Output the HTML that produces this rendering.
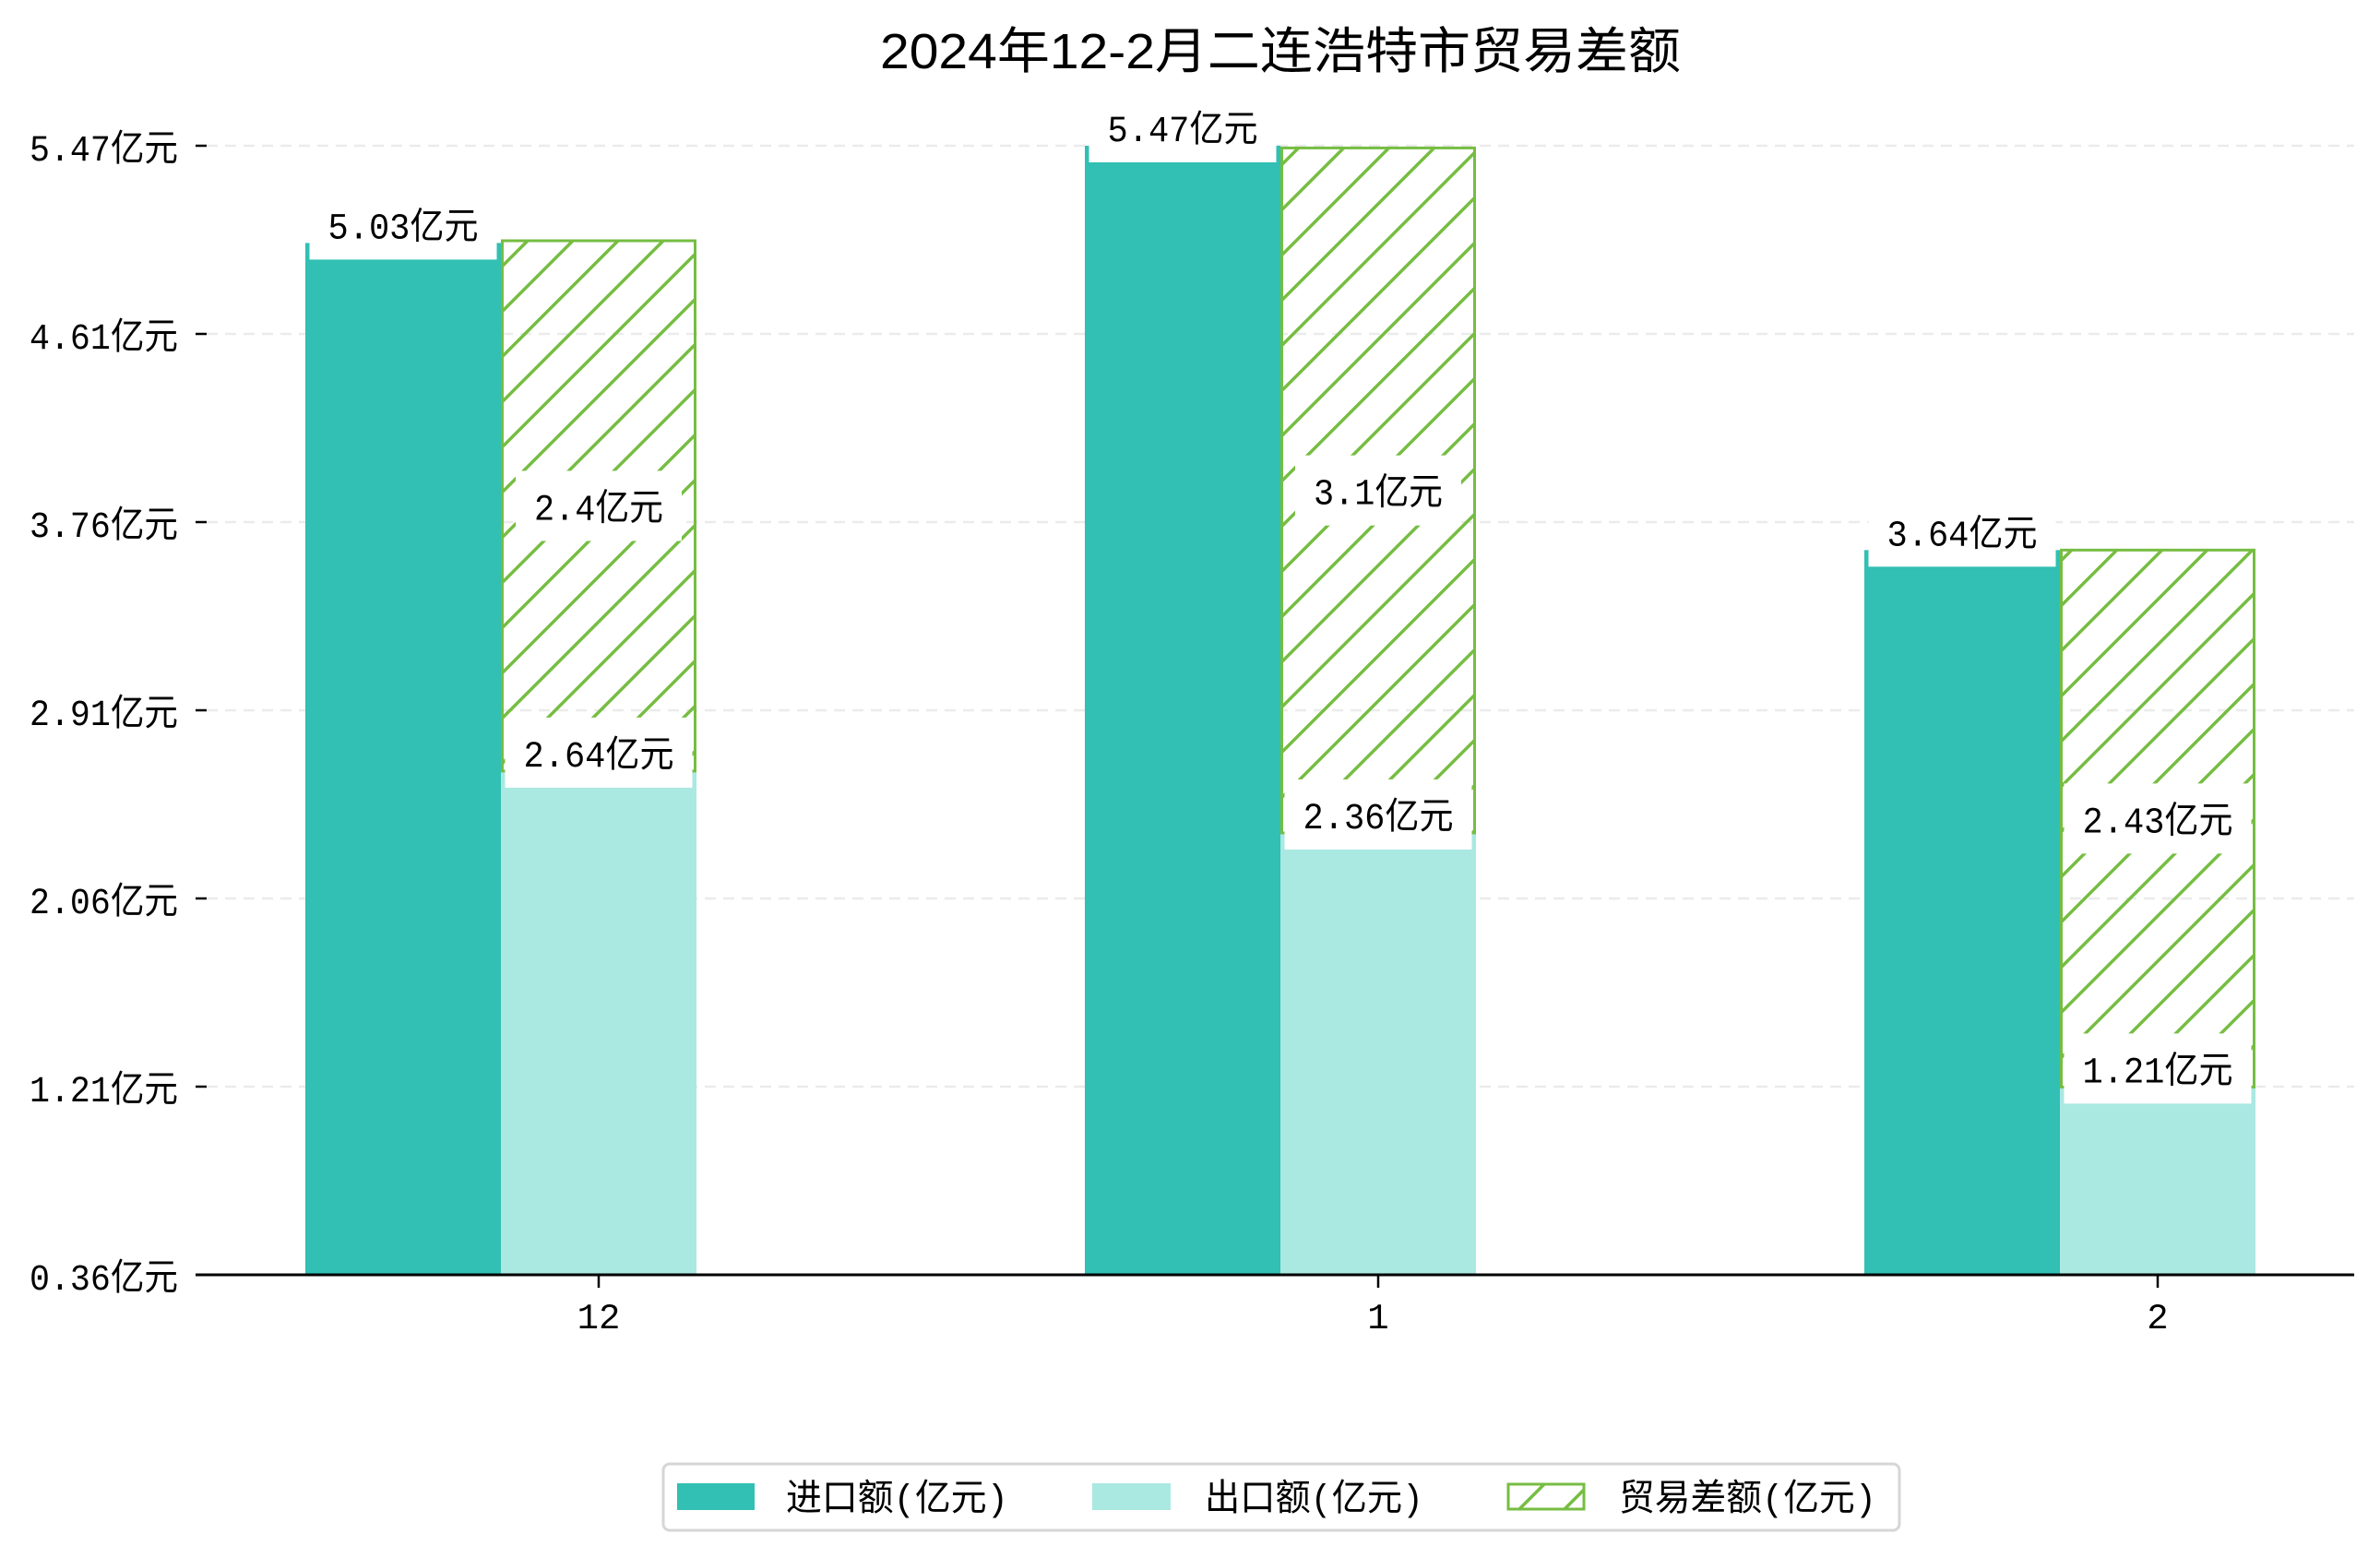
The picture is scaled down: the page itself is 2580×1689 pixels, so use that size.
<!DOCTYPE html>
<html><head><meta charset="utf-8"><style>
html,body{margin:0;padding:0;background:#fff;}
svg{display:block;}
text{font-family:"Liberation Mono","Noto Sans CJK SC",monospace;fill:#000;}
.t{font-family:"Liberation Sans","Noto Sans CJK SC",sans-serif;}
</style></head><body>
<svg id="c" width="2580" height="1689" viewBox="0 0 2580 1689" xmlns="http://www.w3.org/2000/svg">
<defs>
<pattern id="hatch" patternUnits="userSpaceOnUse" width="49" height="49">
<path d="M-5,54 L54,-5 M-5,5 L5,-5 M44,54 L54,44" stroke="#76BD42" stroke-width="3.5"/>
</pattern>
</defs>
<text class="t" x="1388" y="74" font-size="54" text-anchor="middle" textLength="868" lengthAdjust="spacingAndGlyphs">2024年12-2月二连浩特市贸易差额</text>
<g id="grid"></g><g id="bars"></g><g id="labels"></g><g id="axes"></g>
<g>
<rect x="719" y="1587" width="1340" height="72" rx="7" fill="#fff" stroke="#d6d6d6" stroke-width="3"/>
<rect x="734" y="1608" width="84" height="29" fill="#31C0B3"/>
<text x="852" y="1637" font-size="40" textLength="241" lengthAdjust="spacingAndGlyphs">进口额(亿元)</text>
<rect x="1184" y="1608" width="85" height="29" fill="#AAE8E2"/>
<text x="1306" y="1637" font-size="40" textLength="237" lengthAdjust="spacingAndGlyphs">出口额(亿元)</text>
<rect x="1635" y="1609" width="82" height="27" fill="url(#hatch)" stroke="#76BD42" stroke-width="3"/>
<text x="1755" y="1637" font-size="40" textLength="279" lengthAdjust="spacingAndGlyphs">贸易差额(亿元)</text>
</g>
</svg>
<script>
const categories = ["12", "1", "2"];
const importVals = [5.03, 5.47, 3.64];
const exportVals = [2.64, 2.36, 1.21];
const balanceVals = [2.4, 3.1, 2.43];
const yTickLabels = ["0.36亿元","1.21亿元","2.06亿元","2.91亿元","3.76亿元","4.61亿元","5.47亿元"];
const yMin = 0.36, yMax = 5.47;

const NS = "http://www.w3.org/2000/svg";
const axisY = 1382, topY = 158, x0 = 649, step = 845, bw = 212;
function y(v){ return axisY - (v - yMin) / (yMax - yMin) * (axisY - topY); }
function xc(i){ return x0 + i * step; }
function mk(tag, attrs, parent){ const e = document.createElementNS(NS, tag); for (const k in attrs) e.setAttribute(k, attrs[k]); parent.appendChild(e); return e; }
const grid = document.getElementById('grid'), bars = document.getElementById('bars'), labels = document.getElementById('labels'), axes = document.getElementById('axes');

yTickLabels.forEach((lab, i) => {
  const yy = axisY - i * (axisY - topY) / (yTickLabels.length - 1);
  if (i > 0) {
    const g = mk('line', {x1: 224, x2: 2552, y1: yy, y2: yy, stroke: '#ebebeb', 'stroke-width': 2.5, 'stroke-dasharray': '12,8'}, grid);
    
    
  }
  const tk = mk('line', {x1: 212, x2: 224, y1: yy, y2: yy, stroke: '#000', 'stroke-width': 2.5}, axes);
  
  
  const t = mk('text', {x: 32, y: yy + 16, 'font-size': 40, textLength: 161, lengthAdjust: 'spacingAndGlyphs'}, axes);
  t.textContent = lab;
  
  
});

function addLabel(val, cx, cy){
  const s = String(val);
  const w = 71 + s.length * 23;
  const r = mk('rect', {x: cx - w/2 - 20, y: cy - 38, width: w + 40, height: 76, fill: '#fff'}, labels);
  
  
  const t = mk('text', {x: cx - w/2, y: cy + 15, 'font-size': 40, textLength: w, lengthAdjust: 'spacingAndGlyphs'}, labels);
  t.textContent = s + '亿元';
  
  
}

categories.forEach((c, i) => {
  const cx = xc(i);
  const im = mk('rect', {x: cx - 1.5*bw, y: y(importVals[i]), width: bw, height: axisY - y(importVals[i]), fill: '#31C0B3'}, bars);
  
  
  const ex = mk('rect', {x: cx - bw/2, y: y(exportVals[i]), width: bw, height: axisY - y(exportVals[i]), fill: '#AAE8E2'}, bars);
  
  
  const top = exportVals[i] + balanceVals[i];
  const ba = mk('rect', {x: cx - bw/2 + 1.5, y: y(top), width: bw - 3, height: y(exportVals[i]) - y(top), fill: 'url(#hatch)', stroke: '#76BD42', 'stroke-width': 3}, bars);
  
  
  addLabel(importVals[i], cx - bw, y(importVals[i]) - 20);
  addLabel(exportVals[i], cx, y(exportVals[i]) - 20);
  addLabel(balanceVals[i], cx, (y(exportVals[i]) + y(top)) / 2);
  const tk = mk('line', {x1: cx, x2: cx, y1: axisY, y2: axisY + 14, stroke: '#000', 'stroke-width': 2.5}, axes);
  
  
  const t = mk('text', {x: cx, y: axisY + 58, 'font-size': 39, 'text-anchor': 'middle'}, axes);
  t.textContent = c;
  
  
});
const ax = mk('line', {x1: 212, x2: 2552, y1: axisY, y2: axisY, stroke: '#000', 'stroke-width': 3}, axes);


</script>
</body></html>
